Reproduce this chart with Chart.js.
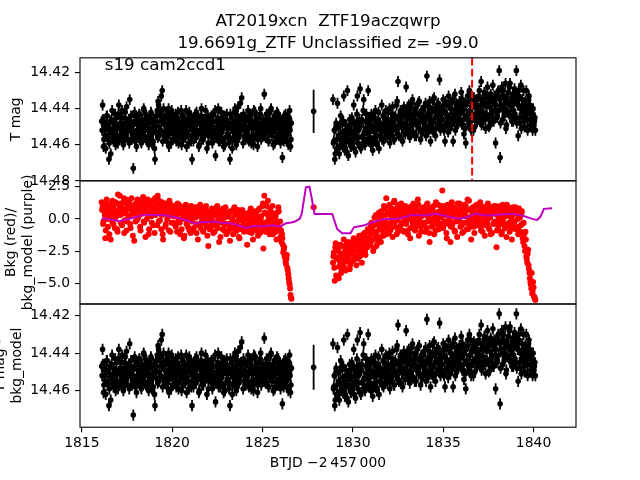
<!DOCTYPE html>
<html>
<head>
<meta charset="utf-8">
<script src="https://cdn.jsdelivr.net/npm/chart.js"></script>
<style>
  body { margin: 0; background: #fff; }
  #wrap { position: relative; width: 640px; height: 480px; }
  #wrap canvas { position: absolute; left: 0; top: 0; }
</style>
</head>
<body>
<div id="wrap">
  <canvas id="lcTop" width="640" height="480"></canvas>
  <canvas id="bkgMid" width="640" height="480"></canvas>
  <canvas id="lcBot" width="640" height="480"></canvas>
</div>
<script>
// ---- data ----
const titleLines = ['AT2019xcn  ZTF19aczqwrp', '19.6691g_ZTF Unclassified z= -99.0'];
const sectorLabel = 's19 cam2ccd1';
const markTime = 1836.60;          // red dashed line
const magErr = 0.003;              // typical error bar

// orbit 1
const orbit1Time = [
  1816.10,1816.15,1816.20,1816.25,1816.30,1816.35,1816.40,1816.45,1816.50,1816.55,1816.60,1816.65,1816.70,1816.75,1816.80,1816.85,1816.90,1816.95,1817.00,1817.05,
  1817.10,1817.15,1817.20,1817.25,1817.30,1817.35,1817.40,1817.45,1817.50,1817.55,1817.60,1817.65,1817.70,1817.75,1817.80,1817.85,1817.90,1817.95,1818.00,1818.05,
  1818.10,1818.15,1818.20,1818.25,1818.30,1818.35,1818.40,1818.45,1818.50,1818.55,1818.60,1818.65,1818.70,1818.75,1818.80,1818.85,1818.90,1818.95,1819.00,1819.05,
  1819.10,1819.15,1819.20,1819.25,1819.30,1819.35,1819.40,1819.45,1819.50,1819.55,1819.60,1819.65,1819.70,1819.75,1819.80,1819.85,1819.90,1819.95,1820.00,1820.05,
  1820.10,1820.15,1820.20,1820.25,1820.30,1820.35,1820.40,1820.45,1820.50,1820.55,1820.60,1820.65,1820.70,1820.75,1820.80,1820.85,1820.90,1820.95,1821.00,1821.05,
  1821.10,1821.15,1821.20,1821.25,1821.30,1821.35,1821.40,1821.45,1821.50,1821.55,1821.60,1821.65,1821.70,1821.75,1821.80,1821.85,1821.90,1821.95,1822.00,1822.05,
  1822.10,1822.15,1822.20,1822.25,1822.30,1822.35,1822.40,1822.45,1822.50,1822.55,1822.60,1822.65,1822.70,1822.75,1822.80,1822.85,1822.90,1822.95,1823.00,1823.05,
  1823.10,1823.15,1823.20,1823.25,1823.30,1823.35,1823.40,1823.45,1823.50,1823.55,1823.60,1823.65,1823.70,1823.75,1823.80,1823.85,1823.90,1823.95,1824.00,1824.05,
  1824.10,1824.15,1824.20,1824.25,1824.30,1824.35,1824.40,1824.45,1824.50,1824.55,1824.60,1824.65,1824.70,1824.75,1824.80,1824.85,1824.90,1824.95,1825.00,1825.05,
  1825.10,1825.15,1825.20,1825.25,1825.30,1825.35,1825.40,1825.45,1825.50,1825.55,1825.60,1825.65,1825.70,1825.75,1825.80,1825.85,1825.90,1825.95,1826.00,1826.05,
  1826.10,1826.15,1826.20,1826.25,1826.30,1826.35,1826.40,1826.45,1826.50,1826.55,1826.60
];
const orbit1Mag = [
  14.447,14.438,14.461,14.452,14.455,14.449,14.444,14.457,14.468,14.451,14.465,14.446,14.453,14.458,14.449,14.443,14.455,14.451,14.459,14.438,
  14.450,14.456,14.445,14.453,14.460,14.448,14.442,14.454,14.451,14.457,14.446,14.435,14.452,14.449,14.455,14.473,14.447,14.458,14.444,14.452,
  14.449,14.456,14.443,14.451,14.459,14.446,14.454,14.441,14.450,14.457,14.445,14.452,14.460,14.448,14.455,14.443,14.451,14.458,14.446,14.468,
  14.453,14.447,14.456,14.438,14.450,14.442,14.433,14.430,14.446,14.455,14.449,14.444,14.458,14.451,14.440,14.454,14.447,14.459,14.452,14.445,
  14.450,14.456,14.443,14.452,14.446,14.459,14.448,14.454,14.441,14.451,14.457,14.445,14.453,14.449,14.461,14.447,14.455,14.442,14.450,14.458,
  14.468,14.451,14.445,14.456,14.449,14.442,14.454,14.447,14.460,14.452,14.444,14.457,14.450,14.446,14.455,14.441,14.453,14.448,14.459,14.451,
  14.445,14.454,14.449,14.457,14.443,14.452,14.466,14.447,14.455,14.440,14.451,14.458,14.446,14.453,14.449,14.461,14.444,14.456,14.450,14.447,
  14.454,14.459,14.468,14.451,14.445,14.457,14.448,14.442,14.453,14.460,14.446,14.439,14.456,14.452,14.445,14.434,14.449,14.443,14.455,14.450,
  14.446,14.453,14.441,14.458,14.449,14.444,14.455,14.451,14.460,14.447,14.442,14.454,14.449,14.457,14.445,14.452,14.440,14.456,14.448,14.453,
  14.432,14.447,14.455,14.443,14.450,14.458,14.446,14.441,14.453,14.449,14.460,14.444,14.451,14.456,14.442,14.448,14.454,14.445,14.459,14.450,
  14.467,14.452,14.444,14.456,14.449,14.458,14.446,14.453,14.441,14.461,14.448
];
const orbit1Bkg = [
  1.3,0.9,-0.2,0.6,-1.5,1.1,0.3,-0.6,0.8,1.0,-1.6,0.2,1.4,-0.4,0.7,0.1,1.2,-0.8,1.9,0.5,
  1.8,-0.3,0.9,0.4,1.3,-1.1,0.6,1.5,-0.2,0.8,0.2,1.1,-0.7,1.6,0.4,1.0,-1.7,0.7,1.2,-0.1,
  0.9,1.4,0.3,-0.9,1.1,0.5,1.7,-0.3,0.8,1.3,0.0,1.5,-1.2,0.6,1.0,0.2,1.4,-0.5,0.9,1.6,
  0.4,1.2,1.8,-0.2,0.7,1.0,-0.8,1.3,-1.6,0.5,0.9,-0.4,1.1,0.1,0.6,1.4,-1.0,0.3,0.8,-0.3,
  1.0,0.2,-0.6,0.7,1.2,-0.1,0.4,-1.2,0.9,0.0,0.6,-1.5,0.3,1.1,-0.4,0.5,0.8,-0.9,0.2,1.0,
  -0.2,0.6,-0.7,0.9,0.1,-1.1,0.5,0.3,-0.5,1.1,-0.3,0.7,-0.9,0.2,0.8,-0.4,0.4,-1.3,-2.1,0.6,
  0.1,-0.6,0.8,-0.2,0.4,-1.0,0.6,-0.4,1.0,0.0,-1.8,0.5,-0.3,0.7,-0.8,0.2,-0.5,0.9,-1.2,0.3,
  -0.4,0.5,-1.7,0.1,-0.7,0.6,-0.2,0.9,-1.0,0.3,-0.5,0.7,-1.4,0.0,0.4,-0.8,0.6,-0.3,0.2,-0.9,
  0.2,-2.0,-0.6,0.5,-0.2,0.8,-1.1,0.1,-0.4,0.6,-0.8,0.3,-0.1,-1.3,0.7,-0.5,0.0,-0.9,1.0,-2.3,
  1.8,-0.3,0.4,-0.7,1.4,0.1,-1.2,0.6,-0.4,1.0,-0.8,0.3,-0.1,-1.0,0.5,-0.6,0.6,-0.9,-1.4,-1.8,
  -1.5,-2.6,-2.2,-3.0,-3.5,-2.8,-4.0,-4.6,-5.1,-5.9,-6.2
];
// orbit 1, in-between cadences
const orbit1bTime = [
  1816.125,1816.175,1816.225,1816.275,1816.325,1816.375,1816.425,1816.475,1816.525,1816.575,1816.625,1816.675,1816.725,1816.775,1816.825,1816.875,1816.925,1816.975,1817.025,1817.075,
  1817.125,1817.175,1817.225,1817.275,1817.325,1817.375,1817.425,1817.475,1817.525,1817.575,1817.625,1817.675,1817.725,1817.775,1817.825,1817.875,1817.925,1817.975,1818.025,1818.075,
  1818.125,1818.175,1818.225,1818.275,1818.325,1818.375,1818.425,1818.475,1818.525,1818.575,1818.625,1818.675,1818.725,1818.775,1818.825,1818.875,1818.925,1818.975,1819.025,1819.075,
  1819.125,1819.175,1819.225,1819.275,1819.325,1819.375,1819.425,1819.475,1819.525,1819.575,1819.625,1819.675,1819.725,1819.775,1819.825,1819.875,1819.925,1819.975,1820.025,1820.075,
  1820.125,1820.175,1820.225,1820.275,1820.325,1820.375,1820.425,1820.475,1820.525,1820.575,1820.625,1820.675,1820.725,1820.775,1820.825,1820.875,1820.925,1820.975,1821.025,1821.075,
  1821.125,1821.175,1821.225,1821.275,1821.325,1821.375,1821.425,1821.475,1821.525,1821.575,1821.625,1821.675,1821.725,1821.775,1821.825,1821.875,1821.925,1821.975,1822.025,1822.075,
  1822.125,1822.175,1822.225,1822.275,1822.325,1822.375,1822.425,1822.475,1822.525,1822.575,1822.625,1822.675,1822.725,1822.775,1822.825,1822.875,1822.925,1822.975,1823.025,1823.075,
  1823.125,1823.175,1823.225,1823.275,1823.325,1823.375,1823.425,1823.475,1823.525,1823.575,1823.625,1823.675,1823.725,1823.775,1823.825,1823.875,1823.925,1823.975,1824.025,1824.075,
  1824.125,1824.175,1824.225,1824.275,1824.325,1824.375,1824.425,1824.475,1824.525,1824.575,1824.625,1824.675,1824.725,1824.775,1824.825,1824.875,1824.925,1824.975,1825.025,1825.075,
  1825.125,1825.175,1825.225,1825.275,1825.325,1825.375,1825.425,1825.475,1825.525,1825.575,1825.625,1825.675,1825.725,1825.775,1825.825,1825.875,1825.925,1825.975,1826.025,1826.075,
  1826.125,1826.175,1826.225,1826.275,1826.325,1826.375,1826.425,1826.475,1826.525,1826.575
];
const orbit1bMag = [
  14.452,14.446,14.457,14.449,14.462,14.444,14.455,14.450,14.459,14.447,14.453,14.441,14.456,14.448,14.454,14.460,14.445,14.451,14.443,14.457,
  14.448,14.454,14.441,14.458,14.450,14.445,14.456,14.439,14.452,14.447,14.459,14.451,14.444,14.457,14.449,14.453,14.442,14.455,14.461,14.446,
  14.455,14.443,14.450,14.458,14.447,14.453,14.440,14.456,14.449,14.444,14.457,14.451,14.446,14.454,14.442,14.459,14.448,14.452,14.462,14.445,
  14.450,14.441,14.436,14.455,14.444,14.452,14.447,14.458,14.440,14.453,14.446,14.456,14.443,14.449,14.461,14.445,14.452,14.441,14.457,14.448,
  14.453,14.445,14.458,14.449,14.442,14.455,14.447,14.451,14.460,14.444,14.452,14.448,14.456,14.441,14.453,14.446,14.459,14.450,14.444,14.455,
  14.447,14.458,14.450,14.443,14.456,14.452,14.445,14.461,14.448,14.454,14.440,14.451,14.457,14.446,14.453,14.449,14.462,14.444,14.455,14.448,
  14.451,14.444,14.459,14.447,14.453,14.441,14.456,14.450,14.445,14.458,14.448,14.454,14.442,14.457,14.451,14.446,14.460,14.449,14.443,14.455,
  14.448,14.456,14.443,14.451,14.462,14.447,14.453,14.440,14.458,14.450,14.444,14.455,14.449,14.437,14.452,14.446,14.459,14.451,14.445,14.457,
  14.452,14.445,14.457,14.450,14.443,14.459,14.448,14.454,14.441,14.456,14.451,14.446,14.461,14.448,14.453,14.443,14.457,14.450,14.446,14.455,
  14.449,14.456,14.443,14.451,14.458,14.446,14.453,14.440,14.455,14.448,14.452,14.459,14.445,14.450,14.457,14.443,14.451,14.456,14.447,14.453,
  14.446,14.458,14.450,14.443,14.455,14.449,14.460,14.445,14.452,14.457
];
const orbit1bBkg = [
  0.7,-0.4,1.1,0.3,-0.9,1.5,0.0,0.8,-1.2,0.5,1.2,-0.2,0.9,0.4,-0.7,1.3,0.2,-1.0,0.6,1.0,
  0.3,1.2,-0.5,0.8,1.6,-0.1,0.5,-0.9,1.1,0.2,1.4,-0.4,0.7,1.0,-1.3,0.4,1.1,-0.2,0.6,1.5,
  0.1,0.8,-0.6,1.2,0.4,1.6,-0.2,0.9,-1.4,0.6,1.3,0.2,-0.8,1.0,0.5,-0.3,1.4,0.7,-1.1,0.3,
  1.1,-0.5,0.6,1.4,-0.1,0.9,0.3,-1.2,1.0,0.5,-0.6,1.2,0.0,0.8,-0.9,0.4,1.1,-0.3,0.6,0.2,
  -0.4,0.8,0.3,-1.0,0.6,1.1,-0.3,0.5,-0.8,0.9,0.2,-1.3,0.7,0.0,1.0,-0.6,0.4,0.1,-1.1,0.6,
  0.4,-0.9,0.2,0.7,-0.4,0.9,-1.6,0.3,0.6,-0.7,0.1,0.8,-1.0,0.5,-0.2,1.0,-0.6,0.3,0.0,-0.8,
  0.5,-0.3,0.2,-1.1,0.7,-0.5,0.3,0.9,-0.7,0.1,0.6,-1.4,0.4,-0.2,0.8,-0.9,0.1,-0.4,0.5,-1.0,
  0.2,-0.8,0.6,-0.3,0.1,-1.2,0.8,-0.5,0.3,-0.9,0.5,-0.1,-1.5,0.4,-0.6,0.7,-0.2,-1.0,0.3,0.0,
  -0.5,0.4,-1.0,0.2,-0.7,0.6,-0.3,-1.6,0.3,-0.2,0.5,-0.9,0.1,-0.5,0.8,-1.1,0.2,-0.4,1.2,-0.6,
  0.5,-1.0,1.0,-0.2,0.3,-0.8,0.8,-0.5,0.0,-1.2,0.4,-0.3,0.2,-1.6,-0.4,0.9,-0.7,-0.2,-0.9,-1.2,
  -2.0,-2.4,-2.9,-3.3,-3.1,-3.8,-4.3,-4.9,-5.4,-6.1
];

// orbit 2
const orbit2Time = [
  1828.90,1828.95,1829.00,1829.05,1829.10,1829.15,1829.20,1829.25,1829.30,1829.35,1829.40,1829.45,1829.50,1829.55,1829.60,1829.65,1829.70,1829.75,1829.80,1829.85,
  1829.90,1829.95,1830.00,1830.05,1830.10,1830.15,1830.20,1830.25,1830.30,1830.35,1830.40,1830.45,1830.50,1830.55,1830.60,1830.65,1830.70,1830.75,1830.80,1830.85,
  1830.90,1830.95,1831.00,1831.05,1831.10,1831.15,1831.20,1831.25,1831.30,1831.35,1831.40,1831.45,1831.50,1831.55,1831.60,1831.65,1831.70,1831.75,1831.80,1831.85,
  1831.90,1831.95,1832.00,1832.05,1832.10,1832.15,1832.20,1832.25,1832.30,1832.35,1832.40,1832.45,1832.50,1832.55,1832.60,1832.65,1832.70,1832.75,1832.80,1832.85,
  1832.90,1832.95,1833.00,1833.05,1833.10,1833.15,1833.20,1833.25,1833.30,1833.35,1833.40,1833.45,1833.50,1833.55,1833.60,1833.65,1833.70,1833.75,1833.80,1833.85,
  1833.90,1833.95,1834.00,1834.05,1834.10,1834.15,1834.20,1834.25,1834.30,1834.35,1834.40,1834.45,1834.50,1834.55,1834.60,1834.65,1834.70,1834.75,1834.80,1834.85,
  1834.90,1834.95,1835.00,1835.05,1835.10,1835.15,1835.20,1835.25,1835.30,1835.35,1835.40,1835.45,1835.50,1835.55,1835.60,1835.65,1835.70,1835.75,1835.80,1835.85,
  1835.90,1835.95,1836.00,1836.05,1836.10,1836.15,1836.20,1836.25,1836.30,1836.35,1836.40,1836.45,1836.50,1836.55,1836.60,1836.65,1836.70,1836.75,1836.80,1836.85,
  1836.90,1836.95,1837.00,1837.05,1837.10,1837.15,1837.20,1837.25,1837.30,1837.35,1837.40,1837.45,1837.50,1837.55,1837.60,1837.65,1837.70,1837.75,1837.80,1837.85,
  1837.90,1837.95,1838.00,1838.05,1838.10,1838.15,1838.20,1838.25,1838.30,1838.35,1838.40,1838.45,1838.50,1838.55,1838.60,1838.65,1838.70,1838.75,1838.80,1838.85,
  1838.90,1838.95,1839.00,1839.05,1839.10,1839.15,1839.20,1839.25,1839.30,1839.35,1839.40,1839.45,1839.50,1839.55,1839.60,1839.65,1839.70,1839.75,1839.80,1839.85,
  1839.90,1839.95,1840.00,1840.05,1840.10
];
const orbit2Mag = [
  14.435,14.458,14.468,14.451,14.462,14.437,14.455,14.465,14.449,14.460,14.447,14.456,14.433,14.463,14.452,14.458,14.430,14.466,14.454,14.449,
  14.461,14.445,14.457,14.438,14.452,14.464,14.448,14.433,14.456,14.450,14.429,14.462,14.446,14.455,14.435,14.459,14.451,14.443,14.457,14.430,
  14.453,14.447,14.460,14.444,14.463,14.450,14.456,14.441,14.452,14.459,14.446,14.462,14.449,14.455,14.438,14.451,14.458,14.445,14.453,14.448,
  14.456,14.442,14.451,14.459,14.446,14.453,14.439,14.449,14.457,14.444,14.452,14.436,14.425,14.455,14.447,14.441,14.450,14.458,14.443,14.449,
  14.454,14.428,14.445,14.451,14.438,14.456,14.443,14.449,14.435,14.453,14.446,14.440,14.455,14.448,14.437,14.451,14.444,14.457,14.441,14.447,
  14.452,14.439,14.446,14.455,14.422,14.443,14.450,14.436,14.458,14.447,14.441,14.453,14.434,14.445,14.451,14.438,14.449,14.443,14.424,14.452,
  14.440,14.446,14.435,14.452,14.458,14.443,14.438,14.449,14.433,14.445,14.451,14.437,14.442,14.458,14.447,14.432,14.444,14.450,14.439,14.446,
  14.436,14.443,14.431,14.449,14.440,14.454,14.437,14.459,14.444,14.433,14.447,14.430,14.441,14.452,14.438,14.445,14.434,14.450,14.439,14.443,
  14.435,14.446,14.430,14.441,14.425,14.448,14.437,14.444,14.432,14.451,14.439,14.428,14.445,14.436,14.449,14.433,14.441,14.427,14.447,14.438,
  14.459,14.434,14.444,14.430,14.419,14.467,14.438,14.428,14.446,14.433,14.440,14.426,14.449,14.436,14.431,14.443,14.426,14.438,14.447,14.432,
  14.441,14.429,14.445,14.419,14.436,14.455,14.433,14.448,14.427,14.439,14.444,14.430,14.450,14.436,14.430,14.446,14.441,14.433,14.438,14.449,
  14.443,14.452,14.444,14.447,14.452
];
const orbit2Bkg = [
  -3.4,-2.6,-4.8,-1.9,-3.1,-4.5,-2.4,-3.7,-2.0,-4.2,-2.9,-3.5,-1.6,-2.7,-4.0,-2.3,-3.2,-1.8,-2.8,-3.6,
  -2.1,-3.3,-2.5,-1.5,-3.0,-2.2,-3.6,-1.9,-2.6,-1.3,-2.9,-2.0,-3.4,-1.7,-2.4,-1.1,-2.8,-1.6,-2.2,-1.0,
  -1.4,-2.0,-0.6,-1.7,-0.9,-2.3,0.1,-1.2,-2.1,-0.4,-1.5,0.5,-0.8,-1.8,0.2,-0.5,-1.3,0.8,-0.2,1.6,
  -0.7,0.4,-1.1,0.9,-0.3,0.6,-1.4,0.2,1.4,-0.6,0.7,-0.1,-1.0,1.1,0.3,-0.5,0.8,-0.9,0.5,0.0,
  1.0,-0.4,0.6,-1.2,0.3,0.9,-0.7,0.4,-0.2,1.2,0.1,-0.9,0.7,-0.3,1.5,-1.3,0.5,-0.6,0.2,0.8,
  -0.5,0.6,-1.0,0.3,1.1,-0.2,0.7,-1.8,0.4,-0.6,0.9,0.0,-1.2,0.5,1.3,-0.4,0.2,-0.8,0.6,1.0,
  0.1,2.2,-0.7,0.8,-0.3,0.5,-1.5,1.1,-0.1,0.4,-1.8,0.7,-0.5,0.9,0.2,-1.0,0.6,-0.2,1.2,0.0,
  1.2,-0.6,0.4,-1.1,0.8,-0.3,0.5,1.0,-0.8,1.5,0.1,-0.4,0.7,-1.6,0.3,0.9,-0.6,0.4,-0.1,1.1,
  -0.5,0.8,0.2,1.3,-0.9,0.5,-0.2,0.7,-1.3,0.3,1.0,-0.4,0.6,-0.8,0.1,0.9,-1.1,0.4,-0.3,0.7,
  1.0,-2.2,0.3,-0.6,0.8,-0.1,0.5,-1.0,1.1,0.2,-0.5,0.6,-1.4,0.4,0.9,-0.3,0.7,-0.8,-1.6,0.3,
  0.6,-0.2,0.9,-0.7,0.4,-1.2,0.8,0.1,-0.5,0.6,-1.5,-0.3,-2.1,-1.0,-2.9,-3.4,-2.4,-3.9,-4.6,-5.1,
  -4.2,-5.6,-5.3,-6.1,-6.3
];
// orbit 2, in-between cadences
const orbit2bTime = [
  1828.925,1828.975,1829.025,1829.075,1829.125,1829.175,1829.225,1829.275,1829.325,1829.375,1829.425,1829.475,1829.525,1829.575,1829.625,1829.675,1829.725,1829.775,1829.825,1829.875,
  1829.925,1829.975,1830.025,1830.075,1830.125,1830.175,1830.225,1830.275,1830.325,1830.375,1830.425,1830.475,1830.525,1830.575,1830.625,1830.675,1830.725,1830.775,1830.825,1830.875,
  1830.925,1830.975,1831.025,1831.075,1831.125,1831.175,1831.225,1831.275,1831.325,1831.375,1831.425,1831.475,1831.525,1831.575,1831.625,1831.675,1831.725,1831.775,1831.825,1831.875,
  1831.925,1831.975,1832.025,1832.075,1832.125,1832.175,1832.225,1832.275,1832.325,1832.375,1832.425,1832.475,1832.525,1832.575,1832.625,1832.675,1832.725,1832.775,1832.825,1832.875,
  1832.925,1832.975,1833.025,1833.075,1833.125,1833.175,1833.225,1833.275,1833.325,1833.375,1833.425,1833.475,1833.525,1833.575,1833.625,1833.675,1833.725,1833.775,1833.825,1833.875,
  1833.925,1833.975,1834.025,1834.075,1834.125,1834.175,1834.225,1834.275,1834.325,1834.375,1834.425,1834.475,1834.525,1834.575,1834.625,1834.675,1834.725,1834.775,1834.825,1834.875,
  1834.925,1834.975,1835.025,1835.075,1835.125,1835.175,1835.225,1835.275,1835.325,1835.375,1835.425,1835.475,1835.525,1835.575,1835.625,1835.675,1835.725,1835.775,1835.825,1835.875,
  1835.925,1835.975,1836.025,1836.075,1836.125,1836.175,1836.225,1836.275,1836.325,1836.375,1836.425,1836.475,1836.525,1836.575,1836.625,1836.675,1836.725,1836.775,1836.825,1836.875,
  1836.925,1836.975,1837.025,1837.075,1837.125,1837.175,1837.225,1837.275,1837.325,1837.375,1837.425,1837.475,1837.525,1837.575,1837.625,1837.675,1837.725,1837.775,1837.825,1837.875,
  1837.925,1837.975,1838.025,1838.075,1838.125,1838.175,1838.225,1838.275,1838.325,1838.375,1838.425,1838.475,1838.525,1838.575,1838.625,1838.675,1838.725,1838.775,1838.825,1838.875,
  1838.925,1838.975,1839.025,1839.075,1839.125,1839.175,1839.225,1839.275,1839.325,1839.375,1839.425,1839.475,1839.525,1839.575,1839.625,1839.675,1839.725,1839.775,1839.825,1839.875,
  1839.925,1839.975,1840.025,1840.075
];
const orbit2bMag = [
  14.459,14.452,14.465,14.448,14.457,14.462,14.450,14.456,14.444,14.460,14.453,14.447,14.461,14.455,14.449,14.464,14.451,14.457,14.446,14.460,
  14.453,14.458,14.447,14.462,14.450,14.455,14.443,14.459,14.452,14.446,14.461,14.449,14.456,14.441,14.454,14.460,14.447,14.452,14.445,14.458,
  14.449,14.456,14.443,14.451,14.458,14.445,14.453,14.447,14.460,14.450,14.442,14.455,14.448,14.452,14.457,14.444,14.450,14.456,14.441,14.453,
  14.447,14.452,14.440,14.455,14.448,14.443,14.451,14.457,14.445,14.450,14.438,14.454,14.446,14.449,14.442,14.456,14.444,14.451,14.439,14.448,
  14.443,14.450,14.439,14.454,14.446,14.441,14.452,14.437,14.448,14.444,14.455,14.440,14.449,14.443,14.451,14.436,14.447,14.442,14.453,14.445,
  14.441,14.448,14.437,14.450,14.444,14.453,14.439,14.446,14.442,14.451,14.435,14.447,14.440,14.455,14.443,14.449,14.437,14.445,14.441,14.450,
  14.446,14.439,14.451,14.442,14.436,14.448,14.444,14.453,14.438,14.446,14.440,14.449,14.435,14.445,14.441,14.452,14.437,14.444,14.448,14.440,
  14.442,14.437,14.448,14.435,14.446,14.440,14.451,14.438,14.444,14.436,14.449,14.441,14.433,14.446,14.439,14.452,14.437,14.443,14.435,14.447,
  14.440,14.433,14.445,14.438,14.449,14.435,14.442,14.431,14.446,14.437,14.444,14.434,14.450,14.439,14.432,14.443,14.436,14.447,14.433,14.441,
  14.438,14.445,14.431,14.441,14.435,14.448,14.434,14.440,14.430,14.444,14.437,14.451,14.433,14.442,14.436,14.428,14.444,14.439,14.434,14.447,
  14.436,14.443,14.432,14.448,14.438,14.430,14.445,14.440,14.451,14.435,14.442,14.447,14.437,14.444,14.440,14.452,14.435,14.446,14.441,14.450,
  14.446,14.440,14.449,14.445
];
const orbit2bBkg = [
  -2.9,-3.8,-2.2,-4.4,-3.0,-2.5,-4.6,-3.3,-2.7,-3.9,-2.1,-3.1,-3.8,-2.5,-3.3,-1.9,-3.0,-2.6,-3.9,-2.3,
  -2.7,-1.8,-3.2,-2.4,-1.7,-2.9,-2.0,-3.1,-1.6,-2.5,-1.4,-2.3,-2.7,-1.2,-2.0,-2.5,-1.5,-1.9,-0.8,-1.6,
  -0.9,-1.8,-0.3,-1.1,-2.5,-0.5,-1.5,0.3,-1.0,-1.9,0.0,-0.7,-1.4,0.6,-0.3,-1.0,1.0,-0.6,0.3,-1.2,
  0.5,-0.4,1.1,-0.9,0.2,0.8,-0.6,1.3,-0.2,0.4,-1.2,0.9,0.1,-0.7,0.6,1.2,-0.3,0.3,-1.0,0.7,
  -0.2,0.5,-0.9,0.8,0.0,-1.5,0.6,1.0,-0.4,0.3,-0.8,0.9,0.2,-0.5,1.1,-0.1,0.6,-1.0,0.4,-0.3,
  0.9,-0.3,0.4,-0.7,1.2,0.1,-1.1,0.6,-0.2,0.8,-0.5,1.0,0.3,-0.9,0.5,-0.1,1.1,-0.6,0.2,-0.4,
  0.6,-0.5,1.0,-0.2,0.3,-1.1,0.7,-0.4,0.9,0.1,-0.6,1.3,-0.3,0.4,-0.9,0.8,0.0,-1.4,0.5,-0.1,
  0.3,0.9,-0.5,0.6,-1.0,1.1,0.2,-0.3,0.7,-0.8,1.4,0.0,-0.6,0.8,-0.2,0.5,-1.1,1.0,0.1,-0.4,
  0.6,-0.2,1.1,-0.6,0.4,-1.0,0.9,0.0,-0.5,0.7,-0.1,1.2,-0.7,0.3,-1.2,0.5,0.8,-0.4,1.0,-0.2,
  0.4,-0.9,0.7,0.1,-0.4,1.0,-1.2,0.5,-0.2,0.8,-0.7,0.2,1.1,-0.5,0.3,-1.0,0.6,0.0,-0.6,0.9,
  -0.3,0.5,-0.8,0.7,0.0,-0.6,0.3,-1.0,0.4,-0.4,-1.8,-1.2,-2.5,-1.6,-3.1,-2.7,-3.6,-4.2,-4.9,-5.4,
  -5.8,-4.9,-6.0,-6.2
];

// single point in the mid-sector gap
const gapTime = [1827.83];
const gapMagTop = [14.4415];
const gapMagBot = [14.4475];
const gapErr = 0.012;
const gapBkg = [0.9];

// background model (purple)
const modelTime = [1816.10,1816.60,1817.05,1817.50,1818.00,1818.50,1819.00,1819.45,1819.90,1820.40,1820.90,1821.30,1821.60,1821.85,1822.30,1822.70,1823.15,1823.60,1824.05,1824.50,1825.15,1825.60,1826.00,1826.30,1826.60,1826.80,1827.00,1827.05,1827.15,1827.20,1827.40,1827.60,1827.75,1827.88,1828.86,1829.13,1829.41,1829.87,1830.06,1830.70,1831.07,1831.81,1832.37,1832.83,1833.28,1834.03,1834.58,1835.30,1835.87,1836.42,1836.79,1837.35,1837.90,1838.82,1839.37,1839.93,1840.20,1840.39,1840.57,1841.03];
const modelBkg  = [0.05,-0.05,-0.19,-0.05,0.15,0.33,0.30,0.31,0.20,0.05,-0.15,-0.39,-0.25,-0.26,-0.20,-0.30,-0.34,-0.45,-0.70,-0.55,-0.57,-0.50,-0.57,-0.34,-0.28,-0.20,-0.03,0.00,0.30,0.64,2.45,2.50,1.42,0.39,0.39,-0.78,-1.11,-1.11,-0.65,-0.47,-0.26,0.00,0.00,0.13,0.31,0.26,0.39,0.18,0.00,0.18,0.39,0.26,0.31,0.39,0.26,0.00,-0.08,0.18,0.78,0.83];

// axes
const xRange = [1814.9, 1842.35];
const xTicks = [1815, 1820, 1825, 1830, 1835, 1840];
const topRange = [14.4119, 14.4799];
const topTicks = [14.42, 14.44, 14.46, 14.48];
const midRange = [-6.607, 2.958];
const midTicks = [-5, -2.5, 0, 2.5];
const botRange = [14.4138, 14.4795];
const botTicks = [14.42, 14.44, 14.46];

// ---- drawing ----
const FONT = 'DejaVu Sans';
const tickFont = { family: FONT, size: 13.9 };
const labelFont = { family: FONT, size: 13.9, lineHeight: 1.2 };
const minus = s => s.replace('-', '\u2212');

function pts(times, vals) {
  return times.map((t, i) => ({ x: t, y: vals[i] }));
}
const magPoints = [...pts(orbit1Time, orbit1Mag), ...pts(orbit1bTime, orbit1bMag),
                   ...pts(orbit2Time, orbit2Mag), ...pts(orbit2bTime, orbit2bMag)];
const bkgPoints = [...pts(orbit1Time, orbit1Bkg), ...pts(orbit1bTime, orbit1bBkg), ...pts(gapTime, gapBkg),
                   ...pts(orbit2Time, orbit2Bkg), ...pts(orbit2bTime, orbit2bBkg)];

const errorBars = {
  id: 'errorBars',
  beforeDatasetsDraw(chart) {
    const { ctx, chartArea: a, scales: { x, y } } = chart;
    ctx.save();
    ctx.beginPath();
    ctx.rect(a.left, a.top, a.right - a.left, a.bottom - a.top);
    ctx.clip();
    ctx.strokeStyle = '#000';
    ctx.lineWidth = 1.8;
    chart.data.datasets.forEach(ds => {
      if (!ds.yErr) return;
      ctx.beginPath();
      ds.data.forEach(p => {
        const px = x.getPixelForValue(p.x);
        ctx.moveTo(px, y.getPixelForValue(p.y - ds.yErr));
        ctx.lineTo(px, y.getPixelForValue(p.y + ds.yErr));
      });
      ctx.stroke();
    });
    ctx.restore();
  }
};

const frame = {
  id: 'frame',
  afterDatasetsDraw(chart) {
    const { ctx, chartArea: a } = chart;
    ctx.save();
    ctx.strokeStyle = '#000';
    ctx.lineWidth = 1.1;
    ctx.strokeRect(a.left, a.top, a.right - a.left, a.bottom - a.top);
    ctx.restore();
  }
};

const discoveryLine = {
  id: 'discoveryLine',
  afterDatasetsDraw(chart) {
    const { ctx, chartArea: a, scales: { x } } = chart;
    const px = x.getPixelForValue(markTime);
    ctx.save();
    ctx.strokeStyle = '#ff0000';
    ctx.lineWidth = 2;
    ctx.setLineDash([7.7, 3.3]);
    ctx.beginPath();
    ctx.moveTo(px, a.top);
    ctx.lineTo(px, a.bottom);
    ctx.stroke();
    ctx.restore();
  }
};

const sectorText = {
  id: 'sectorText',
  afterDraw(chart) {
    const { ctx, chartArea: a } = chart;
    ctx.save();
    ctx.font = '16.7px "DejaVu Sans"';
    ctx.fillStyle = '#000';
    ctx.textBaseline = 'alphabetic';
    ctx.fillText(sectorLabel, a.left + 0.05 * (a.right - a.left), a.top + 0.1 * (a.bottom - a.top));
    ctx.restore();
  }
};

function xAxis(show) {
  return {
    type: 'linear',
    display: show,
    min: xRange[0], max: xRange[1],
    afterBuildTicks: s => { s.ticks = xTicks.map(v => ({ value: v })); },
    afterFit: s => { if (show) s.height = 52.8; },
    grid: { drawOnChartArea: false, tickLength: 5, color: '#000', lineWidth: 1.1 },
    border: { display: false },
    ticks: { font: tickFont, color: '#000', padding: 3, maxRotation: 0, callback: v => String(v) },
    title: { display: show, text: 'BTJD \u22122\u2009457\u2009000', font: labelFont, color: '#000', padding: { top: 0, bottom: 8.7 } }
  };
}

function yAxis(range, ticks, reverse, label, titlePad, digits) {
  return {
    type: 'linear',
    reverse: reverse,
    min: range[0], max: range[1],
    afterBuildTicks: s => { s.ticks = ticks.map(v => ({ value: v })); },
    afterFit: s => { s.width = 80; },
    grid: { drawOnChartArea: false, tickLength: 5, color: '#000', lineWidth: 1.1 },
    border: { display: false },
    ticks: { font: tickFont, color: '#000', padding: 5, callback: v => minus(Number(v).toFixed(digits)) },
    title: { display: true, text: label, font: labelFont, color: '#000', padding: { top: titlePad, bottom: 0 } }
  };
}

function baseOptions(padTop, padBottom) {
  return {
    responsive: false,
    animation: false,
    devicePixelRatio: 1,
    layout: { padding: { left: 0, right: 64, top: padTop, bottom: padBottom } },
    plugins: { legend: { display: false }, tooltip: { enabled: false } }
  };
}

// top: T mag
const topOpts = baseOptions(0, 299.2);
topOpts.scales = { x: xAxis(false), y: yAxis(topRange, topTicks, true, 'T mag', 8, 2) };
topOpts.plugins.title = {
  display: true, text: titleLines, fullSize: false, color: '#000',
  font: { family: FONT, size: 16.7, weight: 'normal', lineHeight: 1.3 },
  padding: { top: 10.9, bottom: 3.5 }
};
new Chart(document.getElementById('lcTop'), {
  type: 'scatter',
  data: { datasets: [
    { data: magPoints, yErr: magErr, pointRadius: 2.8, pointBackgroundColor: '#000', pointBorderWidth: 0 },
    { data: pts(gapTime, gapMagTop), yErr: gapErr, pointRadius: 2.8, pointBackgroundColor: '#000', pointBorderWidth: 0 }
  ] },
  options: topOpts,
  plugins: [errorBars, discoveryLine, frame, sectorText]
});

// middle: background
const midOpts = baseOptions(180.8, 176);
midOpts.scales = { x: xAxis(false), y: yAxis(midRange, midTicks, false, ['Bkg (red)/', 'bkg_model (purple)'], 3, 1) };
new Chart(document.getElementById('bkgMid'), {
  type: 'scatter',
  data: { datasets: [
    { data: pts(modelTime, modelBkg), showLine: true, borderColor: '#bf00bf', borderWidth: 2,
      pointRadius: 0, tension: 0, order: 0 },
    { data: bkgPoints, pointRadius: 3, pointBackgroundColor: '#ff0000', pointBorderWidth: 0, order: 1 }
  ] },
  options: midOpts,
  plugins: [frame]
});

// bottom: T mag - bkg_model
const botOpts = baseOptions(304, 0);
botOpts.scales = { x: xAxis(true), y: yAxis(botRange, botTicks, true, ['T mag -', 'bkg_model'], -8, 2) };
new Chart(document.getElementById('lcBot'), {
  type: 'scatter',
  data: { datasets: [
    { data: magPoints, yErr: magErr, pointRadius: 2.8, pointBackgroundColor: '#000', pointBorderWidth: 0 },
    { data: pts(gapTime, gapMagBot), yErr: gapErr, pointRadius: 2.8, pointBackgroundColor: '#000', pointBorderWidth: 0 }
  ] },
  options: botOpts,
  plugins: [errorBars, frame]
});
</script>
</body>
</html>
